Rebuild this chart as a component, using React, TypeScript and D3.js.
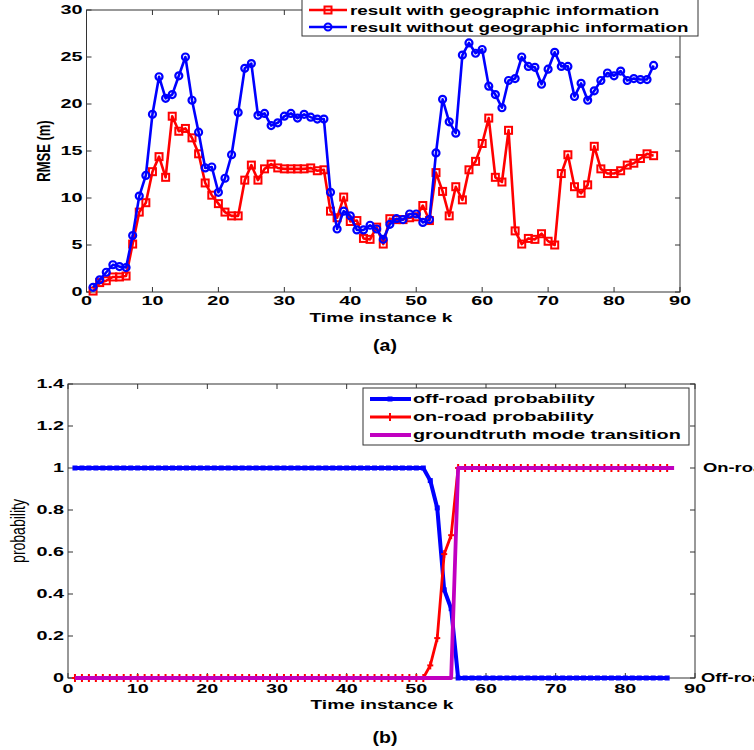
import React from "react";
import * as d3 from "d3";

// ---------- Data ----------
const kTop = d3.range(1, 87);
const rmseWithGeo = [
  0.1, 1.0, 1.2, 1.6, 1.6, 1.7, 5.1, 8.5, 9.5, 12.8,
  14.4, 12.2, 18.7, 17.1, 17.4, 16.4, 14.7, 11.6, 10.3, 9.4,
  8.5, 8.1, 8.1, 11.9, 13.5, 11.9, 13.1, 13.6, 13.2, 13.1,
  13.1, 13.1, 13.1, 13.2, 12.9, 13.0, 8.6, 7.9, 10.1, 7.5,
  7.6, 5.7, 5.6, 6.9, 5.1, 7.8, 7.7, 7.7, 7.9, 8.0,
  9.2, 7.6, 12.7, 10.7, 8.1, 11.2, 9.8, 13.0, 13.9, 15.8,
  18.5, 12.2, 11.7, 17.2, 6.5, 5.1, 5.7, 5.6, 6.2, 5.4,
  5.0, 12.6, 14.6, 11.2, 10.5, 11.4, 15.5, 13.1, 12.6, 12.6,
  12.9, 13.5, 13.7, 14.2, 14.7, 14.5,
];
const rmseWithoutGeo = [
  0.5, 1.3, 2.1, 2.9, 2.7, 2.6, 6.0, 10.2, 12.4, 18.9,
  22.9, 20.6, 21.0, 23.0, 25.0, 20.4, 17.0, 13.2, 13.3, 10.6,
  12.1, 14.6, 19.1, 23.8, 24.3, 18.8, 19.0, 17.7, 18.0, 18.7,
  19.0, 18.5, 18.9, 18.6, 18.4, 18.4, 10.6, 6.7, 8.6, 8.1,
  6.6, 6.6, 7.1, 6.7, 5.6, 7.2, 7.8, 7.7, 8.3, 8.3,
  7.4, 7.7, 14.8, 20.5, 18.1, 16.9, 25.2, 26.5, 25.4, 25.8,
  21.9, 21.0, 19.6, 22.5, 22.7, 25.0, 24.0, 23.9, 22.1, 23.7,
  25.5, 24.0, 24.0, 20.8, 22.2, 20.4, 21.4, 22.5, 23.3, 23.0,
  23.5, 22.5, 22.7, 22.6, 22.6, 24.1,
];

const kBottom = d3.range(1, 87);
const offRoadProb = kBottom.map((k) => (k <= 51 ? 1 : k === 52 ? 0.94 : k === 53 ? 0.81 : k === 54 ? 0.42 : k === 55 ? 0.33 : 0));
const onRoadProb = kBottom.map((k) => (k <= 51 ? 0 : k === 52 ? 0.06 : k === 53 ? 0.19 : k === 54 ? 0.59 : k === 55 ? 0.68 : 1));
const kTruth = d3.range(1, 88);
const groundTruth = kTruth.map((k) => (k <= 55 ? 0 : 1));

const topXTicks = [0, 10, 20, 30, 40, 50, 60, 70, 80, 90];
const topYTicks = [0, 5, 10, 15, 20, 25, 30];
const botXTicks = [0, 10, 20, 30, 40, 50, 60, 70, 80, 90];
const botYTicks = [0, 0.2, 0.4, 0.6, 0.8, 1, 1.2, 1.4];

const legendTop = ["result with geographic information", "result without geographic information"];
const legendBottom = ["off-road probability", "on-road probability", "groundtruth mode transition"];

// ---------- Styles ----------
const FONT = "'Liberation Sans', Arial, sans-serif";
const SX = 1.47;
const BLUE = "#0000ff";
const RED = "#ff0000";
const MAG = "#c000c0";
const AXIS = "#333";

function T({ x, y, size = 13.5, weight = "bold", anchor = "middle", sx = SX, children }: any) {
  return (
    <text
      transform={`translate(${x},${y}) scale(${sx},1)`}
      fontFamily={FONT}
      fontSize={size}
      fontWeight={weight}
      textAnchor={anchor}
      dominantBaseline="central"
      fill="#000"
    >
      {children}
    </text>
  );
}

function VT({ x, y, size = 13, weight = "bold", children }: any) {
  return (
    <text
      transform={`translate(${x},${y}) rotate(-90) scale(1,${SX})`}
      fontFamily={FONT}
      fontSize={size}
      fontWeight={weight}
      textAnchor="middle"
      dominantBaseline="central"
      fill="#000"
    >
      {children}
    </text>
  );
}

function Frame({ x, y, xTicks, yTicks, fmtY, rightTicks = true }: any) {
  const [x0, x1] = x.range();
  const [y0, y1] = y.range();
  const tl = 5;
  return (
    <g>
      <rect x={x0} y={y1} width={x1 - x0} height={y0 - y1} fill="none" stroke={AXIS} strokeWidth={1} />
      {xTicks.map((t: number) => (
        <g key={"x" + t}>
          <line x1={x(t)} x2={x(t)} y1={y0} y2={y0 - tl} stroke={AXIS} />
          <line x1={x(t)} x2={x(t)} y1={y1} y2={y1 + tl} stroke={AXIS} />
        </g>
      ))}
      {yTicks.map((t: number) => (
        <g key={"y" + t}>
          <line x1={x0} x2={x0 + tl} y1={y(t)} y2={y(t)} stroke={AXIS} />
          {rightTicks && <line x1={x1} x2={x1 - tl} y1={y(t)} y2={y(t)} stroke={AXIS} />}
        </g>
      ))}
      {yTicks.map((t: number) => (
        <T key={"yl" + t} x={x0 - 4} y={y(t)} anchor="end">
          {fmtY(t)}
        </T>
      ))}
    </g>
  );
}

export default function App() {
  // Top chart
  const xA = d3.scaleLinear().domain([0, 90]).range([86.5, 680]);
  const yA = d3.scaleLinear().domain([0, 30]).range([292, 10]);
  const lineA = d3
    .line<[number, number]>()
    .x((d) => xA(d[0]))
    .y((d) => yA(d[1]));
  const redPts: [number, number][] = kTop.map((k, i) => [k, rmseWithGeo[i]]);
  const bluePts: [number, number][] = kTop.map((k, i) => [k, rmseWithoutGeo[i]]);

  // Bottom chart
  const xB = d3.scaleLinear().domain([0, 90]).range([68, 695]);
  const yB = d3.scaleLinear().domain([0, 1.4]).range([678, 384]);
  const lineB = d3
    .line<[number, number]>()
    .x((d) => xB(d[0]))
    .y((d) => yB(d[1]));
  const offPts: [number, number][] = kBottom.map((k, i) => [k, offRoadProb[i]]);
  const onPts: [number, number][] = kBottom.map((k, i) => [k, onRoadProb[i]]);
  const truthPts: [number, number][] = kTruth.map((k, i) => [k, groundTruth[i]]);

  const sq = 7;

  return (
    <svg
      width={754}
      height={750}
      style={{ position: "absolute", left: 0, top: 0, background: "#fff" }}
    >
      <rect x={0} y={0} width={754} height={750} fill="#fff" />

      {/* ---------------- Top chart ---------------- */}
      <Frame x={xA} y={yA} xTicks={topXTicks} yTicks={topYTicks} fmtY={(t: number) => String(t)} />
      {topXTicks.map((t) => (
        <T key={"ax" + t} x={xA(t)} y={301}>
          {t}
        </T>
      ))}
      <path d={lineA(redPts) || ""} fill="none" stroke={RED} strokeWidth={2.6} strokeLinejoin="round" />
      {redPts.map((d, i) => (
        <rect
          key={"rs" + i}
          x={xA(d[0]) - sq / 2}
          y={yA(d[1]) - sq / 2}
          width={sq}
          height={sq}
          fill="none"
          stroke={RED}
          strokeWidth={2}
        />
      ))}
      <path d={lineA(bluePts) || ""} fill="none" stroke={BLUE} strokeWidth={2.6} strokeLinejoin="round" />
      {bluePts.map((d, i) => (
        <circle key={"bc" + i} cx={xA(d[0])} cy={yA(d[1])} r={3.5} fill="none" stroke={BLUE} strokeWidth={2.2} />
      ))}
      <T x={381} y={317} size={13}>
        Time instance k
      </T>
      <VT x={43} y={151} size={13}>
        RMSE (m)
      </VT>
      <T x={385} y={345} size={17} sx={1.15}>
        (a)
      </T>

      {/* Top legend */}
      <rect x={302} y={-3} width={396} height={39} fill="#fff" stroke={AXIS} strokeWidth={1} />
      <g>
        <line x1={309} x2={347} y1={10} y2={10} stroke={RED} strokeWidth={2.5} />
        <rect x={328 - sq / 2} y={10 - sq / 2} width={sq} height={sq} fill="none" stroke={RED} strokeWidth={2} />
        <T x={350} y={10} anchor="start" size={12.8}>
          {legendTop[0]}
        </T>
        <line x1={309} x2={347} y1={27} y2={27} stroke={BLUE} strokeWidth={2.5} />
        <circle cx={328} cy={27} r={3.5} fill="none" stroke={BLUE} strokeWidth={2} />
        <T x={350} y={27} anchor="start" size={12.8}>
          {legendTop[1]}
        </T>
      </g>

      {/* ---------------- Bottom chart ---------------- */}
      <Frame
        x={xB}
        y={yB}
        xTicks={botXTicks}
        yTicks={botYTicks}
        fmtY={(t: number) => (t === 0 || t === 1 ? String(t) : t.toFixed(1))}
      />
      {botXTicks.map((t) => (
        <T key={"bx" + t} x={xB(t)} y={688.5}>
          {t}
        </T>
      ))}
      <path d={lineB(offPts) || ""} fill="none" stroke={BLUE} strokeWidth={4} strokeLinejoin="round" />
      {offPts.map((d, i) => (
        <rect key={"bs" + i} x={xB(d[0]) - 2.5} y={yB(d[1]) - 2.5} width={5} height={5} fill={BLUE} />
      ))}
      <path d={lineB(onPts) || ""} fill="none" stroke={RED} strokeWidth={2.8} strokeLinejoin="round" />
      {onPts.map((d, i) => (
        <g key={"rp" + i} stroke={RED} strokeWidth={2}>
          <line x1={xB(d[0])} x2={xB(d[0])} y1={yB(d[1]) - 4} y2={yB(d[1]) + 4} />
          <line x1={xB(d[0]) - 3} x2={xB(d[0]) + 3} y1={yB(d[1])} y2={yB(d[1])} />
        </g>
      ))}
      <path d={lineB(truthPts) || ""} fill="none" stroke={MAG} strokeWidth={3.8} strokeLinejoin="round" />
      <T x={703} y={yB(1)} anchor="start" size={12.5}>
        On-road
      </T>
      <T x={701} y={yB(0)} anchor="start" size={12.5}>
        Off-road
      </T>
      <T x={382} y={704.5} size={13}>
        Time instance k
      </T>
      <VT x={18} y={531} size={14} weight="normal">
        probability
      </VT>
      <T x={385} y={737} size={17} sx={1.15}>
        (b)
      </T>

      {/* Bottom legend */}
      <rect x={363} y={388} width={326} height={57} fill="#fff" stroke={AXIS} strokeWidth={1} />
      <g>
        <line x1={370} x2={411} y1={399} y2={399} stroke={BLUE} strokeWidth={4} />
        <rect x={390 - 2.5} y={399 - 2.5} width={5} height={5} fill={BLUE} />
        <T x={413} y={399} anchor="start" size={13.5}>
          {legendBottom[0]}
        </T>
        <line x1={370} x2={411} y1={417} y2={417} stroke={RED} strokeWidth={2.8} />
        <line x1={390} x2={390} y1={413} y2={421} stroke={RED} strokeWidth={2} />
        <T x={413} y={417} anchor="start" size={13.5}>
          {legendBottom[1]}
        </T>
        <line x1={370} x2={411} y1={435} y2={435} stroke={MAG} strokeWidth={3.8} />
        <T x={413} y={435} anchor="start" size={13.5}>
          {legendBottom[2]}
        </T>
      </g>
    </svg>
  );
}
